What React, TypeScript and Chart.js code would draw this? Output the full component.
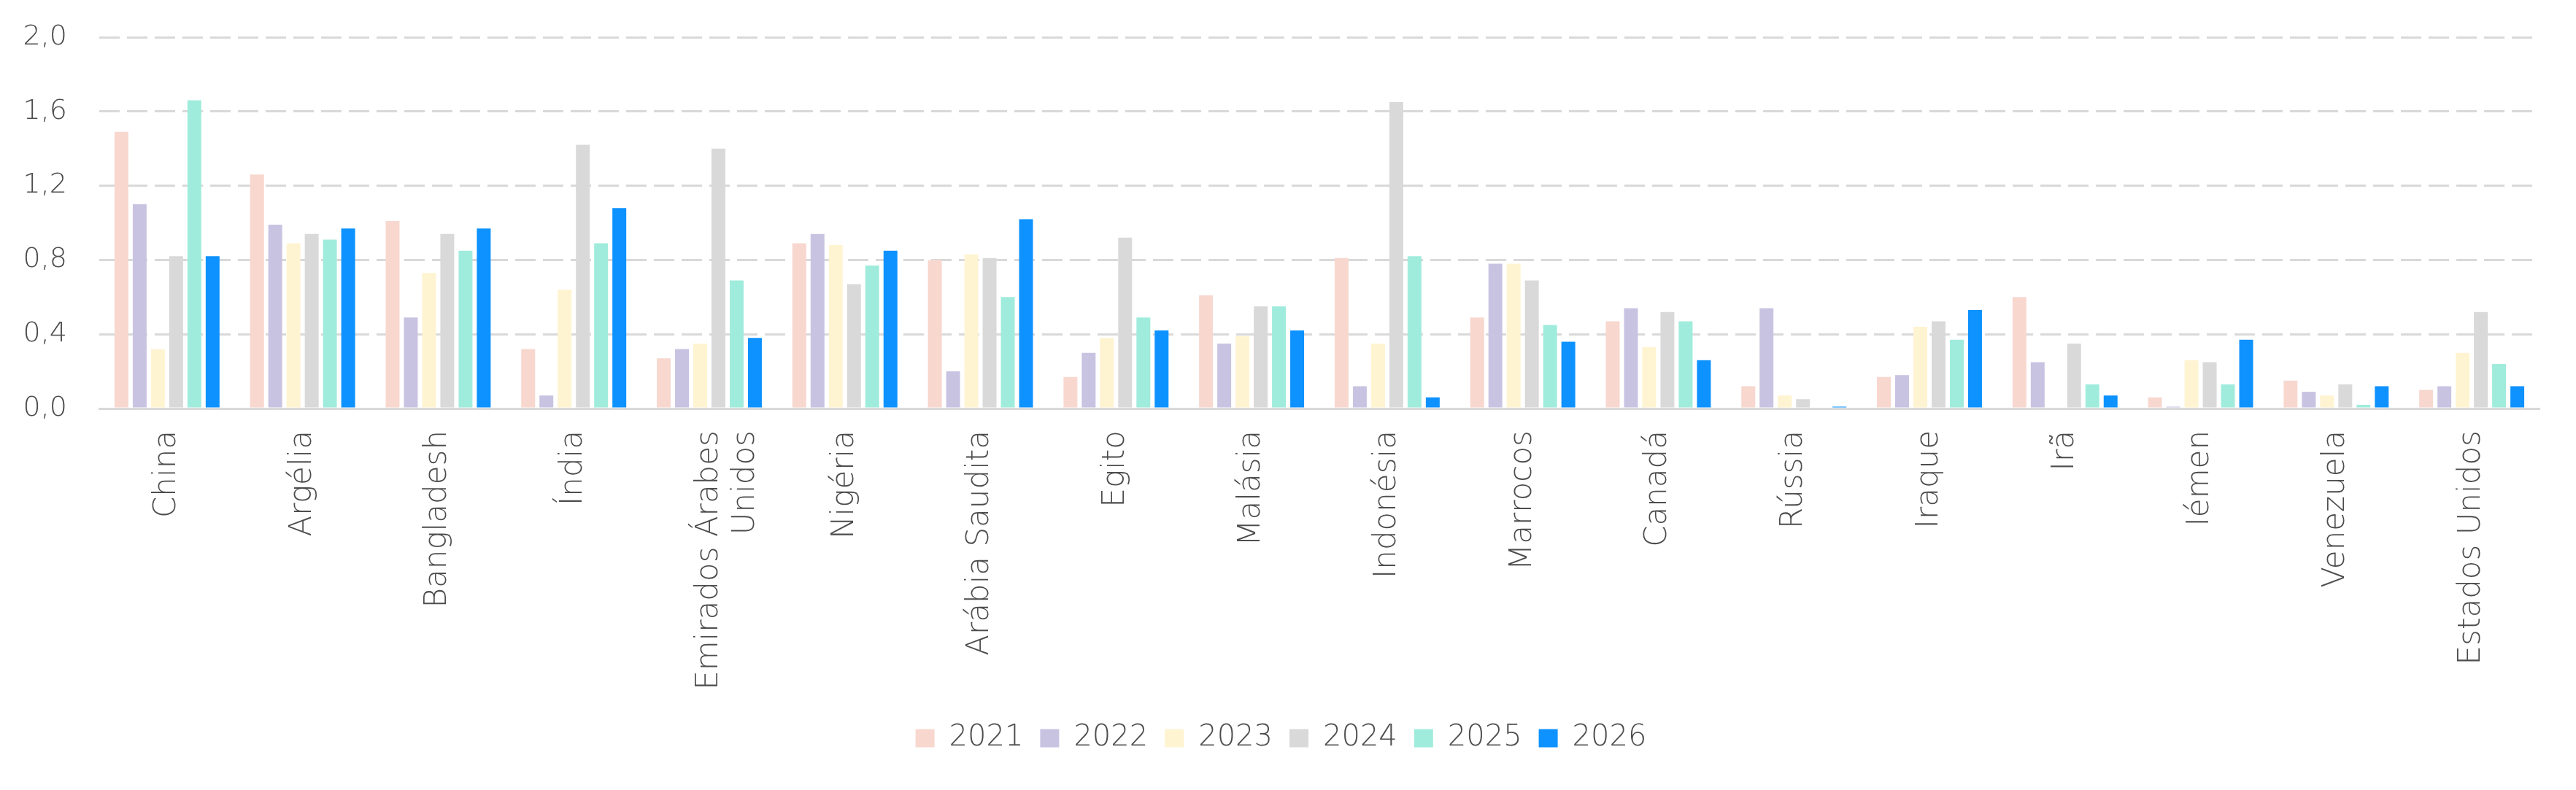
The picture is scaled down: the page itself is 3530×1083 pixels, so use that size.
import React, { useEffect, useRef } from "react";
import { Chart, registerables } from "chart.js";

Chart.register(...registerables);

const categories: (string | string[])[] = [
  "China",
  "Argélia",
  "Bangladesh",
  "Índia",
  ["Emirados Árabes", "Unidos"],
  "Nigéria",
  "Arábia Saudita",
  "Egito",
  "Malásia",
  "Indonésia",
  "Marrocos",
  "Canadá",
  "Rússia",
  "Iraque",
  "Irã",
  "Iémen",
  "Venezuela",
  "Estados Unidos",
];

const seriesNames = ["2021", "2022", "2023", "2024", "2025", "2026"];

const v2021 = [1.49, 1.26, 1.01, 0.32, 0.27, 0.89, 0.8, 0.17, 0.61, 0.81, 0.49, 0.47, 0.12, 0.17, 0.6, 0.06, 0.15, 0.1];
const v2022 = [1.1, 0.99, 0.49, 0.07, 0.32, 0.94, 0.2, 0.3, 0.35, 0.12, 0.78, 0.54, 0.54, 0.18, 0.25, 0.01, 0.09, 0.12];
const v2023 = [0.32, 0.89, 0.73, 0.64, 0.35, 0.88, 0.83, 0.38, 0.39, 0.35, 0.78, 0.33, 0.07, 0.44, 0, 0.26, 0.07, 0.3];
const v2024 = [0.82, 0.94, 0.94, 1.42, 1.4, 0.67, 0.81, 0.92, 0.55, 1.65, 0.69, 0.52, 0.05, 0.47, 0.35, 0.25, 0.13, 0.52];
const v2025 = [1.66, 0.91, 0.85, 0.89, 0.69, 0.77, 0.6, 0.49, 0.55, 0.82, 0.45, 0.47, 0, 0.37, 0.13, 0.13, 0.02, 0.24];
const v2026 = [0.82, 0.97, 0.97, 1.08, 0.38, 0.85, 1.02, 0.42, 0.42, 0.06, 0.36, 0.26, 0.01, 0.53, 0.07, 0.37, 0.12, 0.12];

const seriesValues = [v2021, v2022, v2023, v2024, v2025, v2026];
const seriesColors = ["#F8D7CF", "#C9C3E2", "#FFF4D1", "#D9D9D9", "#A0ECDC", "#0D92FF"];

const yTicks = [0, 0.4, 0.8, 1.2, 1.6, 2.0];

const FONT = "'DejaVu Sans', 'Open Sans', sans-serif";
const TEXT = "#4D4D4D";

export default function App() {
  const ref = useRef<HTMLCanvasElement | null>(null);

  useEffect(() => {
    if (!ref.current) return;
    const chart = new Chart(ref.current, {
      type: "bar",
      data: {
        labels: categories,
        datasets: seriesNames.map((name, i) => ({
          label: name,
          data: seriesValues[i],
          backgroundColor: seriesColors[i],
          borderWidth: 0,
          categoryPercentage: 0.807,
          barPercentage: 0.76,
        })),
      },
      options: {
        responsive: true,
        maintainAspectRatio: false,
        animation: false,
        layout: { padding: { top: 51, right: 50, bottom: 41, left: 31 } },
        plugins: {
          tooltip: { enabled: false },
          legend: {
            position: "bottom",
            labels: {
              boxWidth: 26,
              boxHeight: 25,
              padding: 23,
              color: TEXT,
              font: { family: FONT, size: 40, weight: "300" as any },
            },
          },
        },
        scales: {
          x: {
            afterFit: (s: any) => {
              s.height = 409;
            },
            grid: { display: false, drawTicks: false },
            border: { display: true, color: "#D9D9D9", width: 3 },
            ticks: {
              color: TEXT,
              padding: 30,
              maxRotation: 90,
              minRotation: 90,
              autoSkip: false,
              font: { family: FONT, size: 42, weight: "300" as any },
            },
          },
          y: {
            min: 0,
            max: 2,
            afterFit: (s: any) => {
              s.width = 105;
              s.paddingTop = 0;
              s.paddingBottom = 0;
            },
            afterBuildTicks: (s: any) => {
              s.ticks = yTicks.map((v) => ({ value: v }));
            },
            grid: {
              drawTicks: false,
              color: "#D9D9D9",
              lineWidth: 3,
            },
            border: { display: false, dash: [28, 10] },
            ticks: {
              color: TEXT,
              padding: 44,
              font: { family: FONT, size: 38, weight: "300" as any },
              callback: (v: any) => Number(v).toFixed(1).replace(".", ","),
            },
          },
        },
      },
    });
    return () => chart.destroy();
  }, []);

  return (
    <div style={{ position: "absolute", left: 0, top: 0, width: "3530px", height: "1083px", background: "#fff" }}>
      <canvas ref={ref} />
    </div>
  );
}
